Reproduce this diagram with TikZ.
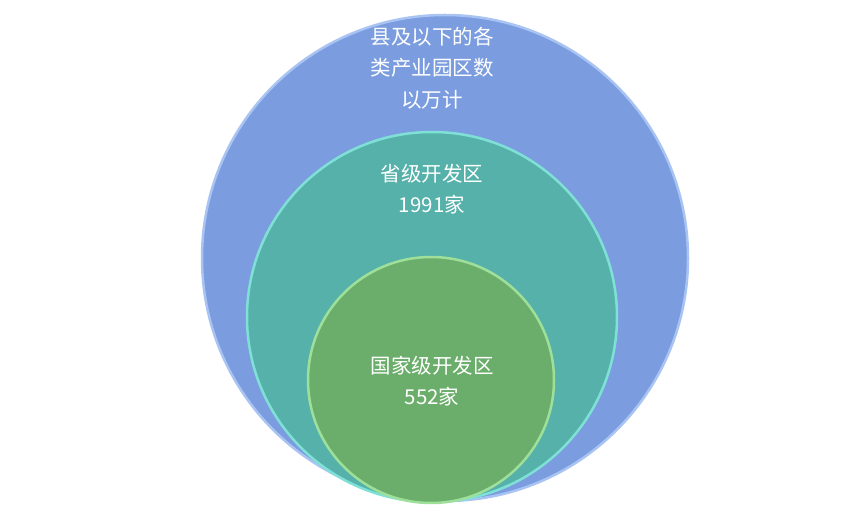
\documentclass[tikz,border=0pt]{standalone}
\usepackage{fontspec}
\setmainfont{Noto Sans CJK SC}
\definecolor{outerblue}{HTML}{7B9DDF}
\definecolor{outerrim}{HTML}{A9C4F2}
\definecolor{midteal}{HTML}{55B1A9}
\definecolor{midrim}{HTML}{7FE0D6}
\definecolor{innergreen}{HTML}{6BAE6B}
\definecolor{innerrim}{HTML}{9EE09A}
\tikzset{
  ring/.style={line width=2.5pt},
  lbl/.style={text=white,align=center,font=\fontsize{20.5}{31.5}\selectfont}
}
\begin{document}
\begin{tikzpicture}[x=1pt,y=-1pt]
	\useasboundingbox (0,0) rectangle (865,510);
	\fill[white] (0,0) rectangle (865,510);
	\coordinate (Cout) at (445,258);
	\coordinate (Cmid) at (432,317);
	\coordinate (Cin) at (431,380);
	\fill[outerblue,draw=outerrim,ring] (Cout) circle (243);
	\fill[midteal,draw=midrim,ring] (Cmid) circle (185);
	\fill[innergreen,draw=innerrim,ring] (Cin) circle (123);
	%labels of the three levels
	\node[lbl] (county) at (432,68) {县及以下的各\\类产业园区数\\以万计};
	\node[lbl] (province) at (432,189) {省级开发区\\1991家};
	\node[lbl] (nation) at (432,381) {国家级开发区\\552家};
\end{tikzpicture}
\end{document}
